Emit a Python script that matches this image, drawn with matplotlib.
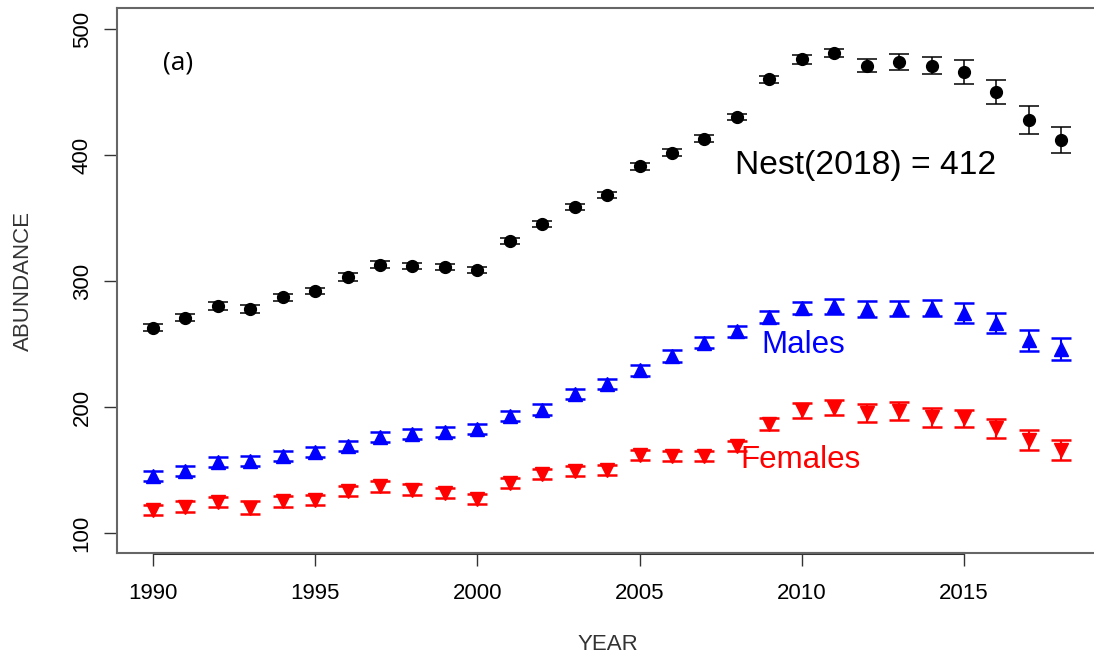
import matplotlib
matplotlib.use("Agg")
import matplotlib.pyplot as plt

plt.rcParams['font.family'] = ['Liberation Sans', 'DejaVu Sans']

# years and abundance estimates
years = list(range(1990, 2019))

total = [263, 271, 280, 278, 287, 292, 303, 313, 312, 311, 309, 332, 345, 359, 368,
         391, 402, 413, 430, 460, 476, 481, 471, 474, 471, 466, 450, 428, 412]
total_err = [3, 3, 3, 3, 2.5, 2.5, 3, 2.5, 2.5, 2.5, 2.5, 2.5, 2.5, 2.5, 2.5,
             2.5, 2.5, 2.5, 2.5, 3, 3.5, 3.5, 5, 6.5, 7, 9.5, 9.5, 11, 10.5]

males = [145, 149, 156, 157, 161, 164, 169, 176, 178.5, 180, 182.5, 193, 198, 210, 218,
         229, 240.5, 251, 260, 271.5, 278.5, 280, 278, 278, 278.5, 274.5, 267, 253, 246]
males_err = [4, 4, 4, 4, 4, 4, 4, 4, 4, 4, 4, 4, 4, 4, 4,
             4.5, 4.5, 4.5, 4.5, 5, 5, 6, 6.5, 6, 6.5, 8, 8, 8.5, 8.5]

females = [118, 121, 124.5, 120, 125, 126.5, 133, 137, 134.5, 132, 127, 140, 147, 149, 150,
           162, 161, 161, 169, 186.5, 197.5, 199.5, 195, 197, 192, 191, 183, 174, 166]
females_err = [4, 4, 4, 5, 4, 4, 4, 4.5, 4.5, 4, 4, 4, 4, 4, 4,
               4, 4, 4, 4, 5, 6, 6, 7, 7, 7.5, 7, 7.5, 8, 8]

xticks = [1990, 1995, 2000, 2005, 2010, 2015]
yticks = [100, 200, 300, 400, 500]

fig = plt.figure(figsize=(10.94, 6.56), dpi=100)
ax = fig.add_axes([0.1069, 0.157, 0.8967, 0.8308])

ax.errorbar(years, total, yerr=total_err, fmt='o', color='black', ms=8.5,
            capsize=7, elinewidth=1.1, capthick=1.1)
ax.errorbar(years, males, yerr=males_err, fmt='^', color='blue', ms=10,
            capsize=7, elinewidth=1.5, capthick=1.8)
ax.errorbar(years, females, yerr=females_err, fmt='v', color='red', ms=10,
            capsize=7, elinewidth=1.5, capthick=1.8)

ax.text(2007.95, 392, 'Nest(2018) = 412', fontsize=24.2, va='center', ha='left')
ax.text(2008.75, 249, 'Males', fontsize=22.5, color='blue', va='center', ha='left')
ax.text(2008.1, 158, 'Females', fontsize=22.5, color='red', va='center', ha='left')
ax.text(0.047, 0.9, '(a)', transform=ax.transAxes, fontsize=19,
        family=['Open Sans', 'DejaVu Sans'], va='center', ha='left')

ax.set_xlim(1988.89, 2019.13)
ax.set_ylim(84.1, 516.7)
ax.set_xticks(xticks)
ax.set_yticks(yticks)
ax.set_yticklabels([str(v) for v in yticks], rotation=90, va='center')
ax.tick_params(axis='both', direction='out', length=9.5, width=1, labelsize=16,
               color='#333333')
ax.tick_params(axis='x', pad=12)
ax.tick_params(axis='y', pad=8)

for s in ax.spines.values():
    s.set_color('#666666')
    s.set_linewidth(1.5)

# R-style axis line under the tick range
ax.plot([xticks[0], xticks[-1]], [84.1, 84.1], color='#333333', lw=2.2,
        clip_on=False, solid_capstyle='butt')

ax.set_xlabel('YEAR', fontsize=16, labelpad=22, color='#333333')
ax.set_ylabel('ABUNDANCE', fontsize=16, labelpad=27, color='#333333')

fig.savefig('out.png', dpi=100)
